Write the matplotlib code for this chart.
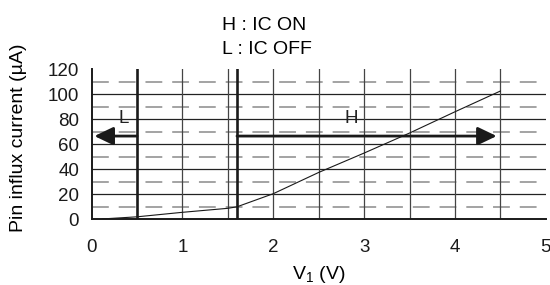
import matplotlib
matplotlib.use("Agg")
import matplotlib.pyplot as plt

plt.rcParams['font.family'] = ['Liberation Sans', 'DejaVu Sans']

# data
v1 = [0.12, 0.5, 1.0, 1.5, 1.6, 2.0, 2.5, 3.0, 3.5, 4.0, 4.5]
current = [0.3, 2.0, 5.6, 8.8, 10.0, 20.5, 37.5, 53.0, 69.0, 86.0, 102.6]
x_ticks = [0, 1, 2, 3, 4, 5]
y_ticks = [0, 20, 40, 60, 80, 100, 120]
solid_h = [20, 40, 60, 80, 100]
dashed_h = [10, 30, 50, 70, 90, 110]
grid_v = [1.0, 1.5, 2.0, 2.5, 3.0, 3.5, 4.0, 4.5]
thresholds = [0.5, 1.6]
arrow_y = 66.6
l_arrow = (0.5, 0.03)
h_arrow = (1.6, 4.46)

fig = plt.figure(figsize=(5.5, 2.85), dpi=100)
ax = fig.add_axes([0.1667, 0.2305, 0.8255, 0.5263])
ax.set_xlim(0, 5)
ax.set_ylim(0, 120)

for y in solid_h:
    ax.plot([0, 5], [y, y], color='#222222', lw=0.9, zorder=2)
for y in dashed_h:
    ax.plot([0, 5], [y, y], color='#8a8a8a', lw=1.1, dashes=(11, 6.5), zorder=1)
for x in grid_v:
    ax.plot([x, x], [0, 120], color='#444444', lw=0.9, zorder=2)
for x in thresholds:
    ax.plot([x, x], [0, 120], color='#1a1a1a', lw=1.9, zorder=3)

ax.plot(v1, current, color='#1a1a1a', lw=0.8, zorder=4)

for (x0, x1) in (l_arrow, h_arrow):
    ax.annotate('', xy=(x1, arrow_y), xytext=(x0, arrow_y),
                arrowprops=dict(arrowstyle='-|>,head_length=1.15,head_width=0.55',
                                lw=2.0, color='#1a1a1a', mutation_scale=10,
                                shrinkA=0, shrinkB=0), zorder=5)

ax.text(0.35, 81, 'L', ha='center', va='center', fontsize=13.5, color='#222222')
ax.text(2.86, 81, 'H', ha='center', va='center', fontsize=13.5, color='#222222')

for s in ['top', 'right']:
    ax.spines[s].set_visible(False)
for s in ['left', 'bottom']:
    ax.spines[s].set_linewidth(1.4)
    ax.spines[s].set_color('#1a1a1a')

ax.set_xticks(x_ticks)
ax.set_yticks(y_ticks)
ax.tick_params(axis='both', length=0, labelsize=13.5, colors='#1a1a1a')
ax.tick_params(axis='x', pad=14)
ax.tick_params(axis='y', pad=9)

ax.set_xlabel('V$_{\\mathregular{1}}$ (V)', fontsize=14, labelpad=6)
fig.text(0.0336, 0.5175, 'Pin influx current (\u00b5A)', rotation=90,
         ha='center', va='center', fontsize=14)

fig.text(0.4036, 0.8947, 'H : IC ON', ha='left', va='baseline', fontsize=14)
fig.text(0.4036, 0.8105, 'L : IC OFF', ha='left', va='baseline', fontsize=14)

fig.savefig('out.png', dpi=100)
